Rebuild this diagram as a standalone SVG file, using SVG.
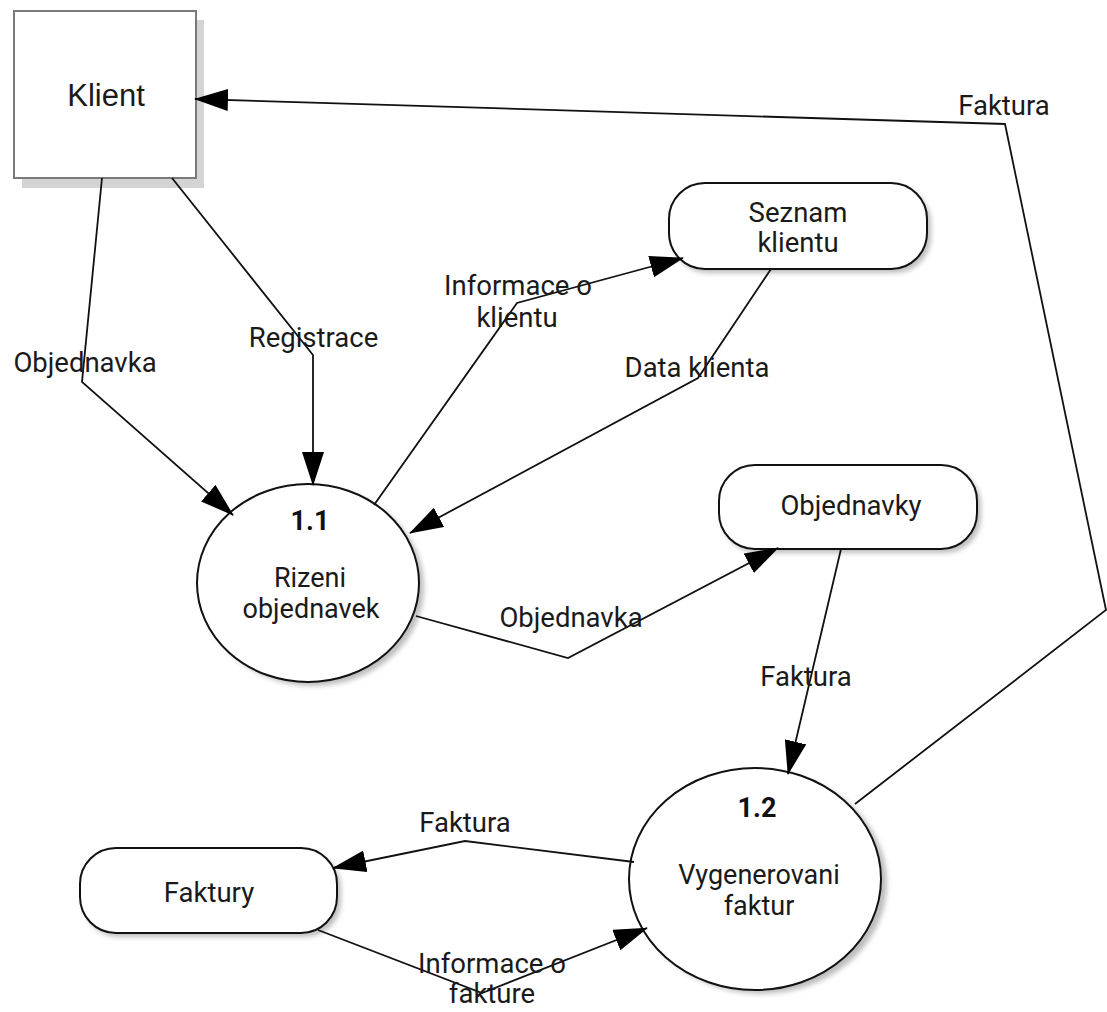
<svg xmlns="http://www.w3.org/2000/svg" width="1107" height="1012" viewBox="0 0 1107 1012">
  <defs>
    <marker id="arrow" markerUnits="userSpaceOnUse" markerWidth="34" markerHeight="22" refX="33" refY="11" orient="auto">
      <path d="M0,0 L34,11 L0,22 z" fill="#000"/>
    </marker>
    <filter id="soft" x="-20%" y="-20%" width="140%" height="140%">
      <feGaussianBlur stdDeviation="2.5"/>
    </filter>
    <style>
      .lbl { font-family: Roboto, "Liberation Sans", sans-serif; font-size: 27.5px; fill: #1a1a1a; text-anchor: middle; }
      .in { font-size: 27px; }
      .num { font-family: Roboto, "Liberation Sans", sans-serif; font-size: 27px; font-weight: bold; fill: #111; text-anchor: middle; }
      .shape { fill: #fff; stroke: #111; stroke-width: 2; }
      .shadow { fill: #bdbdbd; filter: url(#soft); }
      .flow { fill: none; stroke: #111; stroke-width: 1.8; stroke-linejoin: miter; marker-end: url(#arrow); }
    </style>
  </defs>

  <rect width="1107" height="1012" fill="#fff"/>

  <!-- external entity -->
  <g id="klient">
    <rect x="22" y="20" width="182" height="168" fill="#d4d4d4"/>
    <rect x="14" y="11" width="182" height="167" fill="#fff" stroke="#7a7a7a" stroke-width="2"/>
    <text x="106" y="106" font-family="'Liberation Sans', Arial, sans-serif" font-size="31" fill="#1a1a1a" text-anchor="middle">Klient</text>
  </g>

  <!-- data stores -->
  <g id="seznam-klientu">
    <rect class="shadow" x="672" y="187" width="259" height="86" rx="36"/>
    <rect class="shape" x="669" y="183" width="258" height="86" rx="36"/>
    <text class="lbl" x="798" y="221.5">Seznam</text>
    <text class="lbl" x="798" y="251.5">klientu</text>
  </g>

  <g id="objednavky">
    <rect class="shadow" x="722" y="469" width="259" height="84" rx="36"/>
    <rect class="shape" x="719" y="465" width="258" height="84" rx="36"/>
    <text class="lbl" x="851" y="515">Objednavky</text>
  </g>

  <g id="faktury">
    <rect class="shadow" x="83" y="852" width="258" height="85" rx="36"/>
    <rect class="shape" x="80" y="848" width="257" height="85" rx="36"/>
    <text class="lbl" x="209" y="901.5">Faktury</text>
  </g>

  <!-- processes -->
  <g id="p1-1">
    <ellipse class="shadow" cx="313" cy="587" rx="111" ry="99"/>
    <ellipse class="shape" cx="308" cy="583" rx="111" ry="99"/>
    <text class="num" x="310" y="530">1.1</text>
    <text class="lbl in" x="310" y="587">Rizeni</text>
    <text class="lbl in" x="311" y="618">objednavek</text>
  </g>

  <g id="p1-2">
    <ellipse class="shadow" cx="761" cy="883" rx="126" ry="111"/>
    <ellipse class="shape" cx="755" cy="879" rx="126" ry="111"/>
    <text class="num" x="757" y="816.5">1.2</text>
    <text class="lbl in" x="759" y="884">Vygenerovani</text>
    <text class="lbl in" x="759" y="915">faktur</text>
  </g>

  <!-- data flows -->
  <g id="connectors">
    <path class="flow" d="M102,178 L82,382 L233,515"/>
    <path class="flow" d="M172,178 L313,355 L313,485"/>
    <path class="flow" d="M374,505 L517,303 L683,258"/>
    <path class="flow" d="M771,269 L698,378 L410,533"/>
    <path class="flow" d="M416,616 L568,658 L778,548"/>
    <path class="flow" d="M841,549 L788,774"/>
    <path class="flow" d="M855,804 L1106,610 L1005,124 L195,99"/>
    <path class="flow" d="M634,862 L465,841 L333,868"/>
    <path class="flow" d="M318,930 L482,993 L647,928"/>

    <text class="lbl" x="85" y="371.5">Objednavka</text>
    <text class="lbl" x="313.5" y="346.5">Registrace</text>
    <text class="lbl" x="518" y="295">Informace o</text>
    <text class="lbl" x="517" y="326.5">klientu</text>
    <text class="lbl" x="697" y="376.5">Data klienta</text>
    <text class="lbl" x="571" y="626.5">Objednavka</text>
    <text class="lbl" x="806" y="686">Faktura</text>
    <text class="lbl" x="1004" y="115">Faktura</text>
    <text class="lbl" x="465" y="831.5">Faktura</text>
    <text class="lbl" x="492" y="973">Informace o</text>
    <text class="lbl" x="492" y="1003">fakture</text>
  </g>
</svg>
